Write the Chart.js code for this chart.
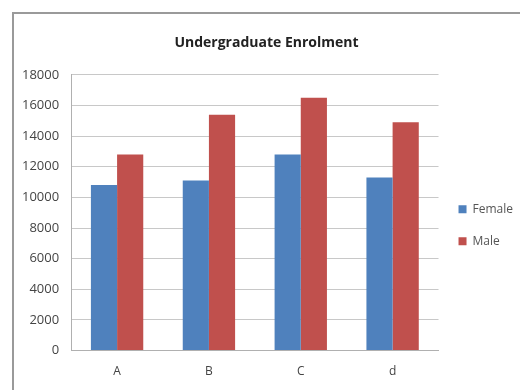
<!DOCTYPE html>
<html>
<head>
<meta charset="utf-8">
<script src="https://cdn.jsdelivr.net/npm/chart.js@4"></script>
<style>
  html, body { margin: 0; padding: 0; background: #fff; }
  #wrap { position: relative; width: 520px; height: 390px; overflow: hidden; }
  #frame { position: absolute; left: 12px; top: 12px; width: 540px; height: 420px;
           border: 2px solid #9a9a9a; box-sizing: border-box; }
  canvas { position: absolute; left: 0; top: 0; }
</style>
</head>
<body>
<div id="wrap">
  <div id="frame"></div>
  <canvas id="myChart" width="520" height="390"></canvas>
</div>
<script>
const categories = ["A", "B", "C", "d"];
const femaleValues = [10800, 11100, 12800, 11300];
const maleValues = [12800, 15400, 16500, 14900];

new Chart("myChart", {
    type: "bar",
    data: {
        labels: categories,
        datasets: [{
            label: "Female",
            backgroundColor: "#4F81BD",
            data: femaleValues
        }, {
            label: "Male",
            backgroundColor: "#C0504D",
            data: maleValues
        }]
    },
    options: {
        responsive: false,
        animation: false,
        layout: { padding: { left: 10, right: -3, top: 35, bottom: 5 } },
        datasets: { bar: { barPercentage: 1, categoryPercentage: 0.57 } },
        plugins: {
            title: {
                display: true,
                text: "Undergraduate Enrolment",
                color: "#222",
                font: { family: "Open Sans", size: 14, weight: "bold" },
                padding: { top: 0, bottom: 23 }
            },
            legend: {
                position: "right",
                title: { display: true, text: " ", padding: { top: 0, bottom: 16 },
                         font: { family: "Open Sans", size: 12 } },
                labels: {
                    color: "#555",
                    font: { family: "Open Sans", size: 12 },
                    boxWidth: 8,
                    boxHeight: 8,
                    padding: 20
                }
            },
            tooltip: { enabled: false }
        },
        scales: {
            y: {
                min: 0,
                max: 18000,
                ticks: { stepSize: 2000, color: "#444", padding: 12,
                         font: { family: "Open Sans", size: 13 },
                         callback: v => String(v) },
                grid: { color: "#c8c8c8", tickLength: 0 },
                border: { color: "#b0b0b0" }
            },
            x: {
                ticks: { color: "#444", padding: 6,
                         font: { family: "Open Sans", size: 12 } },
                grid: { display: false },
                border: { color: "#b0b0b0" }
            }
        }
    }
});
</script>
</body>
</html>
